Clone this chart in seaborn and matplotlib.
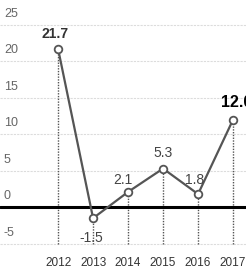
import numpy as np
import pandas as pd
import matplotlib
matplotlib.use("Agg")
import matplotlib.pyplot as plt
import seaborn as sb

years = [2012, 2013, 2014, 2015, 2016, 2017]
growth = [21.7, -1.5, 2.1, 5.3, 1.8, 12.0]
labels = ["21.7", "-1.5", "2.1", "5.3", "1.8", "12.0"]
yticks = [-5, 0, 5, 10, 15, 20, 25]

sb.set_style("white")
plt.rcParams['font.family'] = ['Liberation Sans Narrow', 'Liberation Sans', 'DejaVu Sans']

df = pd.DataFrame({"year": years, "growth": growth})

fig = plt.figure(figsize=(2.46, 2.70), dpi=100)
ax = fig.add_axes([0, 0, 1, 1])

# light grid lines
for t in yticks:
    if t == 0:
        continue
    ax.axhline(t, color="#dcdcdc", lw=0.8, ls=(0, (2, 1)), zorder=0)
ax.axhline(0, color="black", lw=2.2, zorder=2)

# dotted drop lines
for x, y in zip(years, growth):
    ax.plot([x, x], [-5, y], color="#555555", lw=1.0, ls=(0, (1, 1)), zorder=1)

sb.lineplot(data=df, x="year", y="growth", ax=ax, color="#555555", lw=1.6,
            marker="o", markersize=5.5, markerfacecolor="white",
            markeredgecolor="#555555", markeredgewidth=1.3, zorder=3)

# value labels: dx, dy, ha, weight, size, colour
offs = [(-0.1, 2.1, "center", "bold", 10, "#333333"),
        (-0.05, -2.7, "center", "normal", 10, "#444444"),
        (-0.15, 1.7, "center", "normal", 10, "#444444"),
        (0.0, 2.2, "center", "normal", 10, "#444444"),
        (-0.1, 1.9, "center", "normal", 10, "#444444"),
        (-0.35, 2.4, "left", "bold", 11.5, "black")]
for (x, y, lab, o) in zip(years, growth, labels, offs):
    dx, dy, ha, fw, fs, c = o
    ax.text(x + dx, y + dy, lab, ha=ha, va="center", fontsize=fs,
            fontweight=fw, color=c, zorder=4)

# y tick labels drawn inside the plot
for t in yticks:
    ax.text(2010.45, t + 1.5, str(t), ha="left", va="center", fontsize=9,
            color="#666666")

for x in years:
    ax.text(x, -7.6, str(x), ha="center", va="center", fontsize=8.5,
            color="#333333")

ax.set_xlim(2010.34, 2017.37)
ax.set_ylim(-8.6, 28.4)
ax.set_xticks([])
ax.set_yticks([])
ax.set_xlabel("")
ax.set_ylabel("")
for s in ax.spines.values():
    s.set_visible(False)
fig.patch.set_facecolor("white")

plt.savefig("out.png", dpi=100)
